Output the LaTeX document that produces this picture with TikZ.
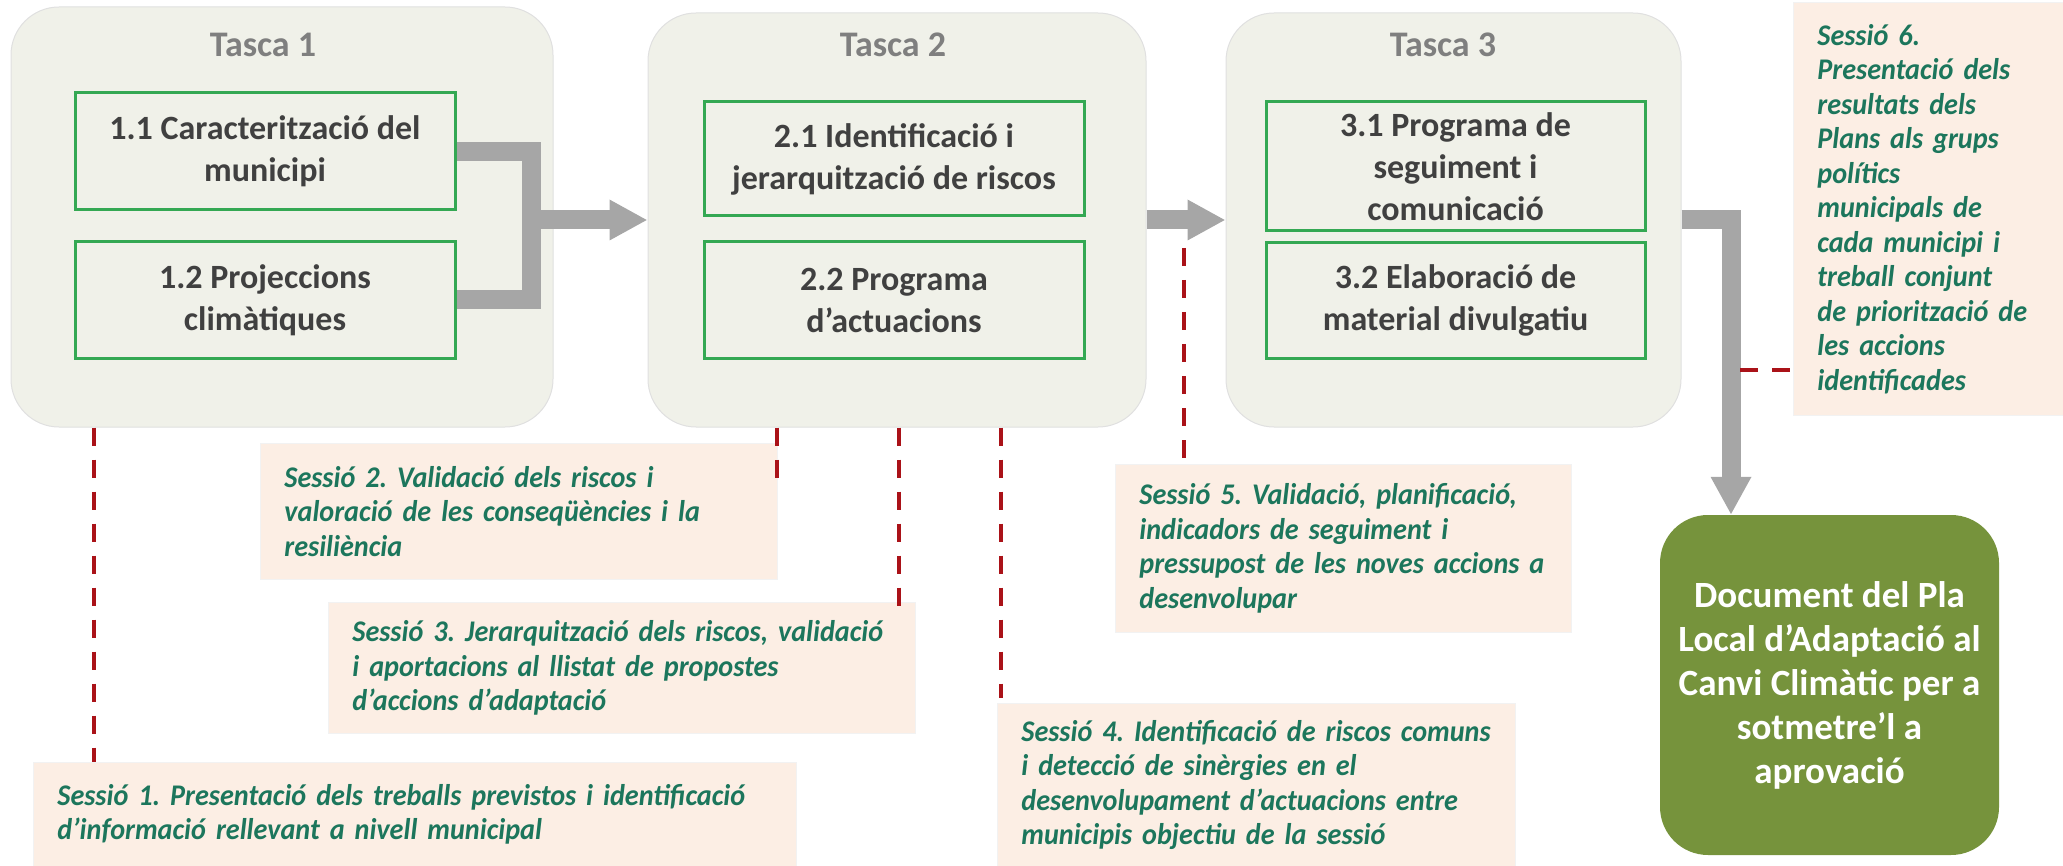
\documentclass[tikz,border=0pt]{standalone}
\usepackage{fontspec}
\setmainfont{Carlito}
\newfontfamily\sessfont[FakeStretch=0.94]{Carlito}
\usetikzlibrary{arrows.meta}
\definecolor{tfill}{RGB}{240,241,233}
\definecolor{titlegray}{RGB}{127,127,127}
\definecolor{textgray}{RGB}{64,64,64}
\definecolor{boxgreen}{RGB}{52,168,83}
\definecolor{sessfill}{RGB}{252,238,228}
\definecolor{sessgreen}{RGB}{28,118,92}
\definecolor{fingreen}{RGB}{118,147,60}
\definecolor{arrgray}{RGB}{166,166,166}
\definecolor{dashred}{RGB}{170,18,24}
\begin{document}
\begin{tikzpicture}[x=1pt,y=-1pt,
  tasca/.style={draw=black!12, line width=1pt, fill=tfill, rounded corners=48pt},
  ttl/.style={font=\fontsize{36}{40}\selectfont\bfseries, text=titlegray},
  sub/.style={draw=boxgreen, line width=3pt, fill=tfill, align=center,
    font=\fontsize{34}{42}\selectfont\bfseries, text=textgray, inner sep=0pt},
  sess/.style={fill=sessfill, draw=black!5, line width=0.8pt, anchor=north west, align=left,
    inner xsep=24pt, inner ysep=0pt,
    font=\sessfont\fontsize{30}{34.5}\selectfont\bfseries\itshape\frenchspacing, text=sessgreen},
  fin/.style={fill=fingreen, rounded corners=48pt, text=white, align=center,
    font=\fontsize{37}{44}\selectfont\bfseries},
  conn/.style={line width=19pt, draw=arrgray},
  arr/.style={conn, -{Triangle[length=38pt 0 0,width=38pt 0 0]}},
  dline/.style={draw=dashred, line width=3.5pt, dash pattern=on 18pt off 14pt},
]
\useasboundingbox (0,0) rectangle (2063,866);

% task containers
\node[tasca, minimum width=542pt, minimum height=420pt] (t1) at (282,217) {};
\node[tasca, minimum width=498pt, minimum height=414pt] (t2) at (897,220) {};
\node[tasca, minimum width=455pt, minimum height=414pt] (t3) at (1453.5,220) {};

\node[ttl] (tt1) at (263,45) {Tasca 1};
\node[ttl] (tt2) at (893,45) {Tasca 2};
\node[ttl] (tt3) at (1443,45) {Tasca 3};

% sub tasks
\node[sub, minimum width=380pt, minimum height=117pt] (b11) at (265,151.5) {1.1 Caracterització del\\municipi};
\node[sub, minimum width=380pt, minimum height=116pt] (b12) at (265,300) {1.2 Projeccions\\climàtiques};
\node[sub, minimum width=380pt, minimum height=114pt] (b21) at (894,159) {2.1 Identificació i\\jerarquització de riscos};
\node[sub, minimum width=380pt, minimum height=116pt] (b22) at (894,300) {2.2 Programa\\d’actuacions};
\node[sub, minimum width=379pt, minimum height=129pt] (b31) at (1455.5,166.5) {3.1 Programa de\\seguiment i\\comunicació};
\node[sub, minimum width=379pt, minimum height=115pt] (b32) at (1455.5,300.5) {3.2 Elaboració de\\material divulgatiu};

% final document
\node[fin, minimum width=339pt, minimum height=340pt] (fin) at (1829.5,685)
  {Document del Pla\\Local d’Adaptació al\\Canvi Climàtic per a\\sotmetre’l a\\aprovació};

% gray connectors
\coordinate (j1) at (531,220);
\coordinate (c3) at (1731,220);
\draw[conn, line join=miter] (b11.east) -- (b11.east -| j1) -- (b12.east -| j1) -- (b12.east);
\draw[arr] (j1) -- (t2.west);
\draw[arr] (t2.east) -- (t3.west);
\draw[arr] (t3.east) -- (c3) -- (c3 |- fin.north);

% session boxes
\node[sess, text width=715pt, minimum height=104pt] (s1) at (33,762)
  {Sessió 1. Presentació dels treballs previstos i identificació\\d’informació rellevant a nivell municipal};
\node[sess, text width=469pt, minimum height=136pt] (s2) at (260,443)
  {Sessió 2. Validació dels riscos i\\valoració de les conseqüències i la\\resiliència};
\node[sess, text width=539pt, minimum height=131pt] (s3) at (328,602)
  {Sessió 3. Jerarquització dels riscos, validació\\i aportacions al llistat de propostes\\d’accions d’adaptació};
\node[sess, text width=470pt, minimum height=163pt] (s4) at (997,703)
  {Sessió 4. Identificació de riscos comuns\\i detecció de sinèrgies en el\\desenvolupament d’actuacions entre\\municipis objectiu de la sessió};
\node[sess, text width=408pt, minimum height=168pt] (s5) at (1115,464)
  {Sessió 5. Validació, planificació,\\indicadors de seguiment i\\pressupost de les noves accions a\\desenvolupar};
\node[sess, text width=222pt, minimum height=413pt] (s6) at (1793,2)
  {Sessió 6.\\Presentació dels\\resultats dels\\Plans als grups\\polítics\\municipals de\\cada municipi i\\treball conjunt\\de priorització de\\les accions\\identificades};

% dashed session links
\coordinate (d1) at (94,0);
\coordinate (d2) at (777,482);
\coordinate (d3) at (899,615);
\coordinate (d4) at (1001,698);
\coordinate (d5) at (1184,248);
\coordinate (d6) at (1740,370);
\draw[dline] (d1 |- t1.south) -- (d1 |- s1.north);
\draw[dline] (d2 |- t2.south) -- (d2);
\draw[dline] (d3 |- t2.south) -- (d3);
\draw[dline] (d4 |- t2.south) -- (d4);
\draw[dline] (d5) -- (d5 |- s5.north);
\draw[dline] (d6) -- (d6 -| s6.west);
\end{tikzpicture}
\end{document}
